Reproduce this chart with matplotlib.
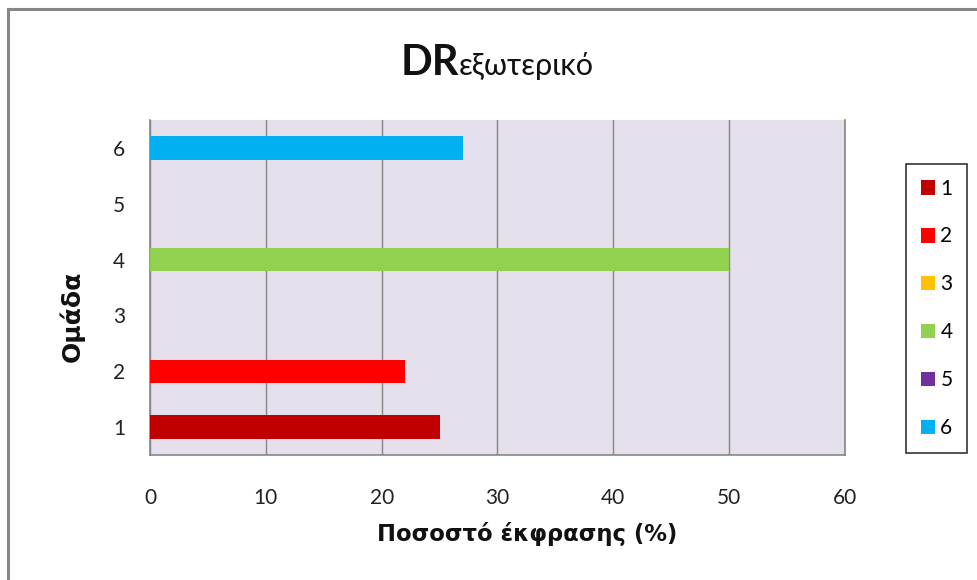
import matplotlib
matplotlib.use("Agg")
import matplotlib.pyplot as plt
from matplotlib.lines import Line2D

groups = ["1", "2", "3", "4", "5", "6"]
values = [25, 22, 0, 50, 0, 27]
colors = ["#C00000", "#FF0000", "#FFC000", "#92D050", "#7030A0", "#00B0F0"]
xticks = [0, 10, 20, 30, 40, 50, 60]
title_main = "DR"
title_sub = "εξωτερικό"
xlabel = "Ποσοστό έκφρασης (%)"
ylabel = "Ομάδα"

plt.rcParams['font.family'] = ['Lato', 'DejaVu Sans']

fig = plt.figure(figsize=(9.78, 5.8), dpi=100)
W, H = 978, 580
ax = fig.add_axes([150 / W, 1 - 455 / H, (845 - 150) / W, (455 - 120) / H])
ax.set_facecolor("#E5E0EC")

positions = list(range(1, len(groups) + 1))
for pos, v, c, g in zip(positions, values, colors, groups):
    ax.barh(pos, v, height=0.42, color=c, label=g, zorder=3)

ax.set_xlim(0, 60)
ax.set_ylim(0.5, 6.5)
ax.set_xticks(xticks)
ax.set_xticklabels([str(t) for t in xticks])
ax.set_yticks(positions)
ax.set_yticklabels(groups)
ax.tick_params(axis='both', length=0, labelsize=15, colors="#222222")
ax.tick_params(axis='x', pad=24)
ax.tick_params(axis='y', pad=18)
ax.grid(axis='x', color="#868686", linewidth=1.0, zorder=1)
ax.grid(axis='y', visible=False)
ax.spines["top"].set_visible(False)
for s in ["left", "bottom", "right"]:
    ax.spines[s].set_color("#868686")
    ax.spines[s].set_linewidth(1.2)

ax.set_xlabel(xlabel, fontsize=16.3, fontweight='bold', color="#111111",
              family=['DejaVu Sans'])
ax.xaxis.set_label_coords(0.542, -0.2)
ax.set_ylabel(ylabel, fontsize=18, fontweight='bold', color="#111111",
              family=['DejaVu Sans'])
ax.yaxis.set_label_coords(-0.094, 0.415)

# title in two parts
tx = 459 / W
ty = 1 - 75 / H
fig.text(tx, ty, title_main, ha='right', va='baseline', fontsize=30, fontweight='bold', color="#111111")
fig.text(tx, ty, title_sub, ha='left', va='baseline', fontsize=22, color="#111111")

handles, labels = ax.get_legend_handles_labels()
leg = fig.legend(handles, labels, loc='upper left',
                 bbox_to_anchor=(906 / W, 1 - 164 / H),
                 fontsize=15, frameon=True, fancybox=False, shadow=False,
                 handlelength=0.7, handleheight=0.7, handletextpad=0.25,
                 labelspacing=1.34, borderpad=0.7, borderaxespad=0.0)
leg.get_frame().set_edgecolor("black")
leg.get_frame().set_linewidth(1.2)

# chart area border (top and left)
fig.add_artist(Line2D([8 / W, 1.0], [1 - 9 / H, 1 - 9 / H], color="#878787", linewidth=2.2))
fig.add_artist(Line2D([8 / W, 8 / W], [0.0, 1 - 9 / H], color="#878787", linewidth=2.2))

fig.savefig("out.png", dpi=100)
